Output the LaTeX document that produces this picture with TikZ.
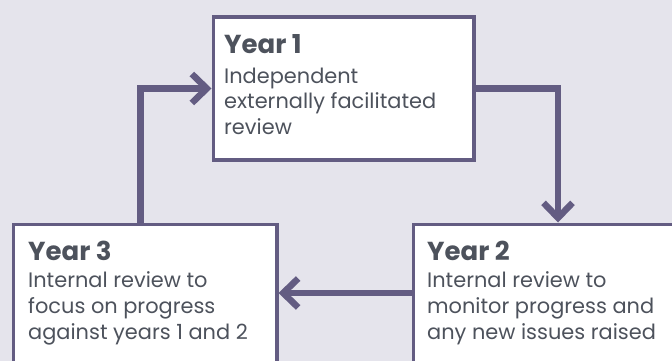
\documentclass[tikz,border=0pt]{standalone}
\usepackage{fontspec}
\setmainfont{Poppins}
\usetikzlibrary{arrows.meta}
\definecolor{bgc}{HTML}{E5E4EC}
\definecolor{linec}{HTML}{635C82}
\definecolor{txtc}{HTML}{4D525C}
\tikzset{
  boxnode/.style={draw=linec, fill=white, line width=3.5pt, rectangle, inner sep=0pt},
  conn/.style={draw=linec, line width=6.5pt, -{Straight Barb[sharp, length=15pt, width=29pt]}},
  ttl/.style={anchor=base west, inner sep=0pt, text=txtc, font=\fontsize{26}{30}\selectfont\bfseries},
  bodytxt/.style={anchor=base west, inner sep=0pt, text=txtc, font=\fontsize{20.9}{25}\selectfont},
}
\begin{document}
\begin{tikzpicture}[x=1pt, y=-1pt]
\fill[bgc] (0,0) rectangle (672,361);
\useasboundingbox (0,0) rectangle (672,361);
\clip (0,0) rectangle (672,361);
% boxes
\node[boxnode, anchor=north west, minimum width=260.5pt, minimum height=142.5pt] (b1) at (211.5,15.5) {};
\node[boxnode, anchor=north west, minimum width=263.5pt, minimum height=160pt] (b3) at (11.5,222.5) {};
\node[boxnode, anchor=north west, minimum width=280pt, minimum height=160pt] (b2) at (411.5,222.5) {};
% helper coordinates
\coordinate (x12) at (558,0);
\coordinate (y23) at (0,293);
\coordinate (x31) at (140.5,0);
% connectors
\draw[conn] (b1.east) -| (x12 |- b2.north);
\draw[conn] (b2.west |- y23) -- (b3.east |- y23);
\draw[conn] (x31 |- b3.north) |- (b1.west);
% texts
\node[ttl] (t1) at (224,54) {Year 1};
\node[bodytxt] (t1a) at (224,83) {Independent};
\node[bodytxt] (t1b) at (224,108.5) {externally facilitated};
\node[bodytxt] (t1c) at (224,134) {review};
\node[ttl] (t2) at (427,260) {Year 2};
\node[bodytxt] (t2a) at (427,287) {Internal review to};
\node[bodytxt] (t2b) at (427,313) {monitor progress and};
\node[bodytxt] (t2c) at (427,339) {any new issues raised};
\node[ttl] (t3) at (28,260) {Year 3};
\node[bodytxt] (t3a) at (28,287) {Internal review to};
\node[bodytxt] (t3b) at (28,313) {focus on progress};
\node[bodytxt] (t3c) at (28,339) {against years 1 and 2};
\end{tikzpicture}
\end{document}
